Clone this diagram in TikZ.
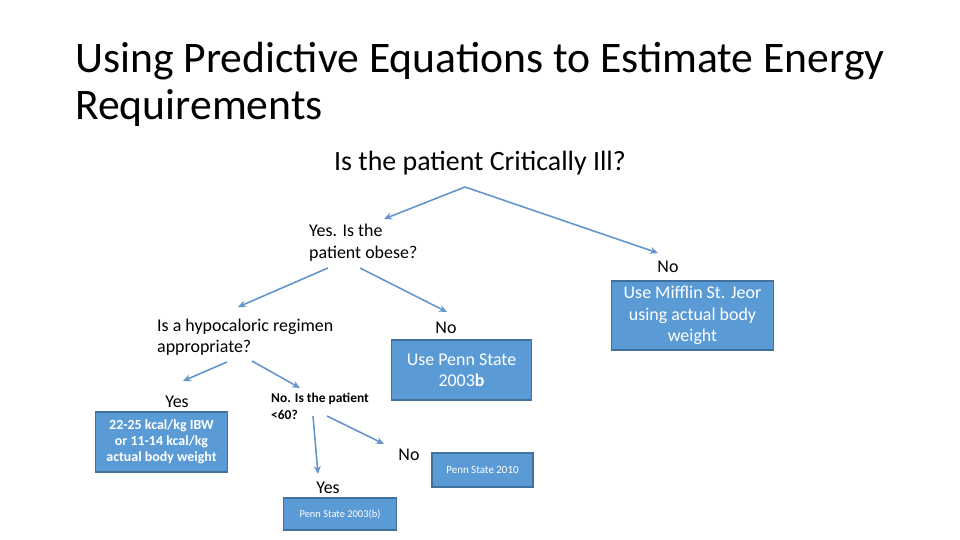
\documentclass[tikz,border=0pt]{standalone}
\usepackage{fontspec}
\setmainfont{Carlito}
\usetikzlibrary{arrows.meta}
\definecolor{boxfill}{RGB}{91,155,213}
\definecolor{boxline}{RGB}{65,113,156}
\definecolor{arrowblue}{RGB}{100,150,205}
\tikzset{
  answerbox/.style={draw=boxline, line width=1.4pt, fill=boxfill, text=white, align=center, inner sep=0pt},
  pointer/.style={draw=arrowblue, line width=1.6pt, -{Stealth[length=8pt,width=7pt]}},
  question/.style={align=left, inner sep=0pt, anchor=west},
  answer/.style={inner sep=0pt, font=\fontsize{18}{22}\selectfont},
}

\begin{document}
\begin{tikzpicture}[x=1bp, y=-1bp]
		%%%%% START %%%%%
		\useasboundingbox (0, 0) rectangle (960, 540);
		
		\node[inner sep=0pt, anchor=base west, font=\fontsize{43.8}{47}\selectfont] (title1) at (75, 73) {Using Predictive Equations to Estimate Energy};
		\node[inner sep=0pt, anchor=base west, font=\fontsize{43.8}{47}\selectfont] (title2) at (75, 120) {Requirements};
		
		\node[inner sep=0pt, font=\fontsize{28}{32}\selectfont] (critical) at (480, 163) {Is the patient Critically Ill?};
		
		\coordinate (fork) at (465, 187);
		\coordinate (obesetip) at (384, 219);
		\coordinate (notip) at (658, 253);
		\draw[pointer] (fork) -- (obesetip);
		\draw[pointer] (fork) -- (notip);
		
		\node[question, font=\fontsize{18}{22}\selectfont] (obese) at (309, 243) {Yes. Is the\\patient obese?};
		\node[answer] (critno) at (668, 267) {No};
		\node[answerbox, minimum width=163, minimum height=69, font=\fontsize{18}{21.5}\selectfont] (mifflin) at (692.5, 315.5) {Use Mifflin St. Jeor\\using actual body\\weight};
		
		\coordinate (obeseyesstart) at (328, 268);
		\coordinate (obeseyestip) at (238, 307);
		\coordinate (obesenostart) at (360, 268);
		\coordinate (obesenotip) at (447, 312);
		\draw[pointer] (obeseyesstart) -- (obeseyestip);
		\draw[pointer] (obesenostart) -- (obesenotip);
		
		\node[question, font=\fontsize{18}{21}\selectfont] (hypo) at (157, 337.5) {Is a hypocaloric regimen\\appropriate?};
		\node[answer] (obeseno) at (446, 328) {No};
		\node[answerbox, minimum width=141, minimum height=60, font=\fontsize{18}{21}\selectfont] (pennb) at (461.5, 370) {Use Penn State\\2003\textbf{b}};
		
		\coordinate (hypoyesstart) at (227, 362);
		\coordinate (hypoyestip) at (183, 381);
		\coordinate (hyponostart) at (252, 361);
		\coordinate (hyponotip) at (300, 388);
		\draw[pointer] (hypoyesstart) -- (hypoyestip);
		\draw[pointer] (hyponostart) -- (hyponotip);
		
		\node[answer] (hypoyes) at (177, 402) {Yes};
		\node[answerbox, minimum width=133, minimum height=60, font=\bfseries\fontsize{14}{16}\selectfont] (kcal) at (161.5, 442) {22-25 kcal/kg IBW\\or 11-14 kcal/kg\\actual body weight};
		
		\node[question, font=\bfseries\fontsize{13.5}{17}\selectfont] (age) at (271, 406.5) {No. Is the patient\\<60?};
		
		\coordinate (ageyesstart) at (313, 416);
		\coordinate (ageyestip) at (318, 474);
		\coordinate (agenostart) at (327, 416);
		\coordinate (agenotip) at (384, 444);
		\draw[pointer] (ageyesstart) -- (ageyestip);
		\draw[pointer] (agenostart) -- (agenotip);
		
		\node[answer] (ageno) at (409, 455) {No};
		\node[answerbox, minimum width=101, minimum height=34, font=\fontsize{11}{13}\selectfont] (penn2010) at (482.5, 470) {Penn State 2010};
		
		\node[answer] (ageyes) at (328, 488) {Yes};
		\node[answerbox, minimum width=114, minimum height=32, font=\fontsize{10.5}{12}\selectfont] (penn2003) at (340, 514) {Penn State 2003(b)};
		%%%%% END %%%%%
	\end{tikzpicture}
\end{document}
